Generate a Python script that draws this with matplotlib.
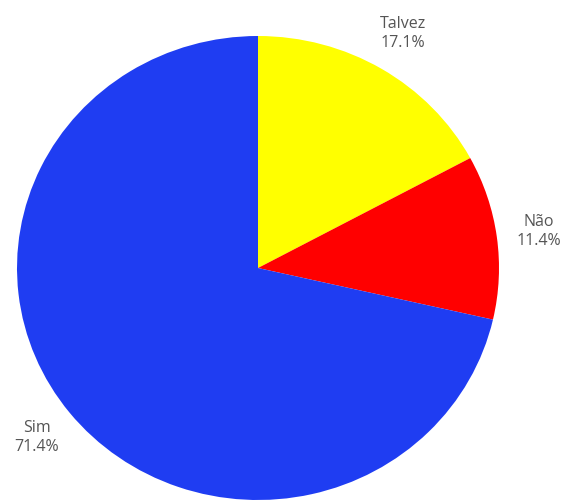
import matplotlib
matplotlib.use("Agg")
import matplotlib.pyplot as plt

labels = ["Talvez", "Não", "Sim"]
counts = [6, 4, 25]
colors = ["#FFFF00", "#FF0000", "#1F3DF2"]

# pixel layout of the pie (it is slightly wider than tall)
W, H = 565, 501
cx, cy = 258, 268
rx, ry = 241, 232

fig = plt.figure(figsize=(W / 100, H / 100), dpi=100, facecolor="white")
ax = fig.add_axes([0, 0, 1, 1])

total = sum(counts)
pct_labels = ["%s\n%.1f%%" % (l, 100.0 * c / total) for l, c in zip(labels, counts)]

wedges, texts = ax.pie(counts, labels=pct_labels, colors=colors, startangle=90,
                       counterclock=False, labeldistance=1.175,
                       wedgeprops=dict(linewidth=0),
                       textprops=dict(color="#555555", fontsize=11.5,
                                      family=["Open Sans", "DejaVu Sans"],
                                      linespacing=1.25))
for t in texts:
    t.set_ha("center")
    t.set_va("center")

ax.set_aspect("auto")
ax.set_xlim(-cx / rx, (W - cx) / rx)
ax.set_ylim(-(H - cy) / ry, cy / ry)
ax.axis("off")

fig.savefig("out.png", dpi=100, facecolor="white")
